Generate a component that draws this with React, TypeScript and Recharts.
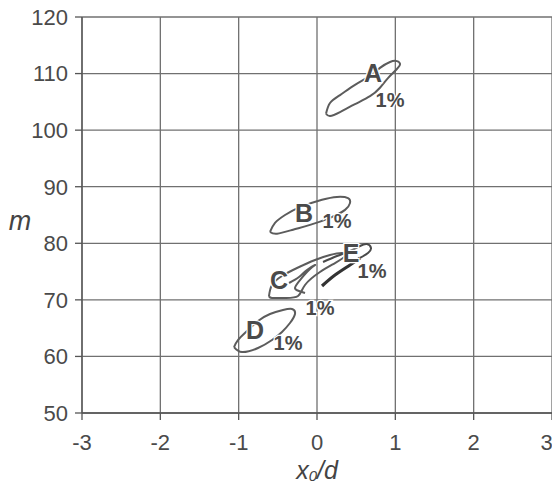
import { ComposedChart, Line, XAxis, YAxis, CartesianGrid } from 'recharts';

const X_TICKS = [-3, -2, -1, 0, 1, 2, 3];
const Y_TICKS = [50, 60, 70, 80, 90, 100, 110, 120];

// contour points, [x0/d, m]
const CONTOUR_A: [number, number][] = [
    [0.115, 102.9], [0.166, 104.8], [0.294, 106.2], [0.485, 108.0], [0.677, 109.6], [0.804, 111.0],
    [0.932, 112.05], [1.02, 112.2], [1.06, 111.7], [1.02, 110.8], [0.906, 109.2], [0.804, 107.5],
    [0.677, 106.0], [0.485, 104.6], [0.294, 103.2], [0.166, 102.5], [0.115, 102.9],
];
const CONTOUR_B: [number, number][] = [
    [-0.6, 82.0], [-0.536, 83.6], [-0.408, 85.0], [-0.217, 86.4], [0.064, 87.7], [0.255, 88.2],
    [0.396, 88.0], [0.421, 87.1], [0.358, 85.9], [0.166, 84.5], [-0.089, 83.25], [-0.306, 82.4],
    [-0.51, 81.7], [-0.6, 82.0],
];
const CONTOUR_C: [number, number][] = [
    [-0.613, 70.68], [-0.574, 72.63], [-0.447, 74.22], [-0.255, 75.63], [-0.025, 77.05], [0.166, 77.93],
    [0.319, 78.28], [0.358, 77.75], [0.23, 76.51], [0.038, 74.92], [-0.153, 72.63], [-0.242, 70.68],
    [-0.408, 70.33], [-0.574, 70.33], [-0.613, 70.68],
];
const CONTOUR_C_INNER: [number, number][] = [
    [-0.357, 72.98], [-0.23, 74.04], [-0.128, 75.28], [-0.025, 76.16], [-0.089, 75.45], [-0.217, 73.5],
    [-0.281, 72.1], [-0.23, 71.56], [-0.153, 71.2],
];
const CONTOUR_E_UPPER: [number, number][] = [
    [0.077, 76.69], [0.255, 77.75], [0.421, 78.63], [0.549, 79.52], [0.638, 79.87], [0.689, 79.17],
    [0.651, 78.28], [0.549, 77.4],
];
const CONTOUR_E_LOWER: [number, number][] = [
    [0.549, 77.4], [0.421, 76.16], [0.23, 74.39], [0.064, 72.45],
];
const CONTOUR_D: [number, number][] = [
    [-1.059, 61.66], [-0.957, 60.78], [-0.753, 61.49], [-0.574, 62.9], [-0.447, 64.32], [-0.345, 65.91],
    [-0.281, 67.5], [-0.319, 68.38], [-0.434, 68.2], [-0.6, 67.5], [-0.753, 66.26], [-0.894, 64.49],
    [-1.009, 62.9], [-1.059, 61.66],
];

const LETTER_LABELS = ['A', 'B', 'C', 'E', 'D'];
const LETTER_X = [0.715, -0.166, -0.485, 0.434, -0.791];
const LETTER_Y = [110.1, 85.35, 73.5, 78.3, 64.7];
const PCT_X = [0.932, 0.255, 0.038, 0.702, -0.37];
const PCT_Y = [105.3, 83.9, 68.55, 75.1, 62.4];

const toPts = (arr: [number, number][]) => arr.map(([x, y]) => ({ x, y }));

const letters = LETTER_LABELS.map((t, i) => ({ x: LETTER_X[i], y: LETTER_Y[i], text: t }));
const pcts = LETTER_LABELS.map((_, i) => ({ x: PCT_X[i], y: PCT_Y[i], text: '1%' }));

const FONT = '"Liberation Sans", Arial, sans-serif';
const INK = '#4a4a4a';

const textDot = (size: number) => (props: any) => (
    <text
        key={`${props.payload.text}-${props.index}-${size}`}
        x={props.cx}
        y={props.cy}
        textAnchor="middle"
        dominantBaseline="central"
        fontFamily={FONT}
        fontWeight="bold"
        fontSize={size}
        fill={INK}
        stroke="#fff"
        strokeWidth={2.5}
        paintOrder="stroke"
    >
        {props.payload.text}
    </text>
);

export default function App() {
    const contours = [
        { id: 'A', pts: CONTOUR_A, w: 2, c: '#5c5c5c' },
        { id: 'B', pts: CONTOUR_B, w: 2, c: '#5c5c5c' },
        { id: 'C', pts: CONTOUR_C, w: 2, c: '#5c5c5c' },
        { id: 'Ci', pts: CONTOUR_C_INNER, w: 2, c: '#5c5c5c' },
        { id: 'Eu', pts: CONTOUR_E_UPPER, w: 2, c: '#4a4a4a' },
        { id: 'El', pts: CONTOUR_E_LOWER, w: 3.2, c: '#333333' },
        { id: 'D', pts: CONTOUR_D, w: 2, c: '#5c5c5c' },
    ];

    return (
        <div style={{ position: 'absolute', left: 0, top: 0, background: '#fff' }}>
            <ComposedChart width={552} height={488} margin={{ top: 17, right: 0, left: 0, bottom: 0 }}>
                <CartesianGrid
                    stroke="#707070"
                    strokeWidth={1.3}
                    horizontalValues={Y_TICKS}
                    verticalValues={X_TICKS}
                />
                <XAxis
                    type="number"
                    dataKey="x"
                    domain={[-3, 3]}
                    ticks={X_TICKS}
                    allowDataOverflow
                    height={75}
                    tickSize={7}
                    tickMargin={14}
                    stroke="#555"
                    strokeWidth={1.3}
                    tick={{ fontFamily: FONT, fontSize: 22, fill: '#4a4a4a' }}
                    label={{
                        content: (p: any) => {
                            const vb = p.viewBox;
                            return (
                                <text
                                    x={vb.x + vb.width / 2}
                                    y={vb.y + 66}
                                    textAnchor="middle"
                                    fontFamily={FONT}
                                    fontStyle="italic"
                                    fontSize={25}
                                    fill="#444"
                                >
                                    x<tspan fontSize={15} dy={2}>0</tspan>
                                    <tspan dy={-2}>/d</tspan>
                                </text>
                            );
                        },
                    }}
                />
                <YAxis
                    type="number"
                    dataKey="y"
                    domain={[50, 120]}
                    ticks={Y_TICKS}
                    allowDataOverflow
                    width={82}
                    tickSize={7}
                    tickMargin={7}
                    stroke="#555"
                    strokeWidth={1.3}
                    tick={{ fontFamily: FONT, fontSize: 22, fill: '#4a4a4a' }}
                    label={{
                        content: () => (
                            <text
                                x={20}
                                y={230}
                                textAnchor="middle"
                                fontFamily={FONT}
                                fontStyle="italic"
                                fontSize={27}
                                fill="#444"
                            >
                                m
                            </text>
                        ),
                    }}
                />
                {contours.map(s => (
                    <Line
                        key={s.id}
                        data={toPts(s.pts)}
                        dataKey="y"
                        type="natural"
                        stroke={s.c}
                        strokeWidth={s.w}
                        dot={false}
                        activeDot={false}
                        isAnimationActive={false}
                    />
                ))}
                <Line
                    data={letters}
                    dataKey="y"
                    stroke="none"
                    dot={textDot(25)}
                    activeDot={false}
                    isAnimationActive={false}
                />
                <Line
                    data={pcts}
                    dataKey="y"
                    stroke="none"
                    dot={textDot(20)}
                    activeDot={false}
                    isAnimationActive={false}
                />
            </ComposedChart>
        </div>
    );
}
